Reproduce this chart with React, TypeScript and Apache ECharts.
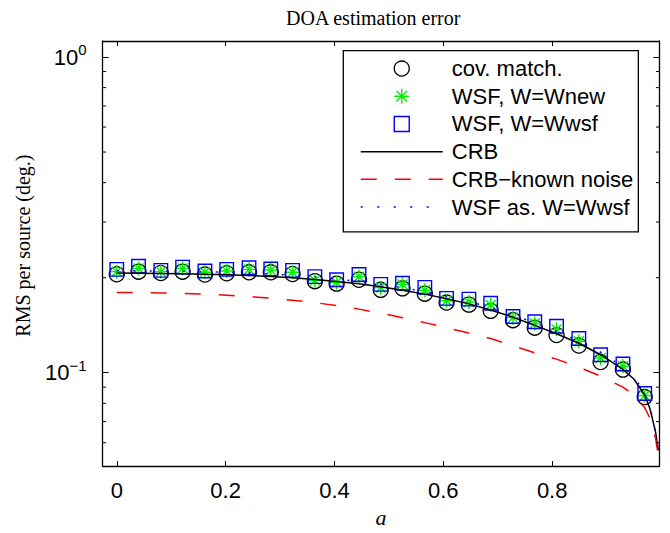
import React, { useEffect, useRef } from 'react';
import * as echarts from 'echarts';

// ---------------- data ----------------
const pointX = [0, 0.040, 0.081, 0.121, 0.162, 0.202, 0.243, 0.283, 0.323, 0.364, 0.404, 0.445, 0.485,
  0.525, 0.566, 0.606, 0.647, 0.687, 0.728, 0.768, 0.808, 0.849, 0.889, 0.930, 0.970];

const covMatch = [0.205, 0.209, 0.207, 0.209, 0.2046, 0.2065, 0.208, 0.208, 0.2055, 0.195, 0.1915, 0.197, 0.183,
  0.185, 0.178, 0.1668, 0.1643, 0.157, 0.1467, 0.1389, 0.1317, 0.1219, 0.1081, 0.1023, 0.0837];

const wsfNew = [0.209, 0.214, 0.209, 0.214, 0.208, 0.210, 0.2125, 0.2115, 0.208, 0.196, 0.193, 0.2015, 0.186,
  0.1905, 0.1824, 0.169, 0.1675, 0.164, 0.1494, 0.1432, 0.1372, 0.1258, 0.1113, 0.1048, 0.0847];

const wsfWsf = [0.2125, 0.2175, 0.211, 0.216, 0.210, 0.2125, 0.215, 0.213, 0.211, 0.2015, 0.197, 0.2046, 0.1905,
  0.192, 0.1863, 0.172, 0.171, 0.166, 0.1507, 0.1450, 0.1403, 0.1283, 0.1140, 0.1066, 0.0859];

const lineX = [0, 0.040, 0.081, 0.121, 0.162, 0.202, 0.243, 0.283, 0.323, 0.364, 0.404, 0.445, 0.485,
  0.525, 0.566, 0.606, 0.647, 0.687, 0.728, 0.768, 0.808, 0.849, 0.889, 0.930, 0.950, 0.970, 0.980, 0.990, 0.995];

const crb = [0.2068, 0.2066, 0.2063, 0.2058, 0.2052, 0.2044, 0.2033, 0.2018, 0.1999, 0.1975, 0.1946, 0.1912, 0.1872,
  0.1826, 0.1774, 0.1716, 0.1652, 0.1580, 0.1498, 0.1412, 0.1328, 0.1240, 0.1140, 0.1025, 0.0955, 0.0850, 0.0766, 0.0648, 0.0567];

const crbKnownNoise = [0.1795, 0.1794, 0.1790, 0.1783, 0.1773, 0.1760, 0.1743, 0.1722, 0.1697, 0.1667, 0.1632, 0.1590, 0.1543,
  0.1494, 0.1441, 0.1389, 0.1335, 0.1283, 0.1218, 0.1155, 0.1104, 0.1040, 0.0975, 0.0900, 0.0850, 0.0775, 0.0715, 0.0620, 0.0545];

const wsfAsymptotic = [0.2105, 0.2103, 0.2100, 0.2095, 0.2089, 0.2081, 0.2070, 0.2054, 0.2035, 0.2011, 0.1981, 0.1946, 0.1906,
  0.1859, 0.1806, 0.1747, 0.1682, 0.1608, 0.1525, 0.1437, 0.1352, 0.1262, 0.1160, 0.1045, 0.0975, 0.0860, 0.0775, 0.0650, 0.0570];

const xTickLabels = ['0', '0.2', '0.4', '0.6', '0.8'];
const yMinorTicks = [0.06, 0.07, 0.08, 0.09, 0.2, 0.3, 0.4, 0.5, 0.6, 0.7, 0.8, 0.9];
const seriesNames = ['cov. match.', 'WSF, W=Wnew', 'WSF, W=Wwsf', 'CRB', 'CRB\u2212known noise', 'WSF as. W=Wwsf'];

const X_MIN = -0.026;
const X_MAX = 0.997;
const Y_MIN = 0.0506;
const Y_MAX = 1.124;

const SANS = 'Liberation Sans, Arial, Helvetica, sans-serif';
const SERIF = 'Liberation Serif, Times New Roman, serif';

const STAR = 'path://M0,5L10,5M5,0L5,10M1.46,1.46L8.54,8.54M8.54,1.46L1.46,8.54';
const SQUARE = 'path://M0,0L10,0L10,10L0,10Z';

export default function App() {
  const ref = useRef<HTMLDivElement>(null);

  useEffect(() => {
    if (!ref.current) return;
    const chart = echarts.init(ref.current, undefined, { renderer: 'svg' });

    const pair = (xs: number[], ys: number[]) => xs.map((x, i) => [x, ys[i]]);
    const transparent = 'rgba(0,0,0,0)';

    const axisLineStyle = { show: true, onZero: false, lineStyle: { color: '#000', width: 1.3 } };

    const option: any = {
      animation: false,
      backgroundColor: '#fff',
      title: {
        text: 'DOA estimation error',
        left: 286,
        top: 8,
        padding: 0,
        textStyle: { fontFamily: SERIF, fontSize: 20, fontWeight: 'normal', color: '#000' },
      },
      grid: { left: 102.6, right: 10.6, top: 41, bottom: 57, containLabel: false },
      xAxis: [
        {
          type: 'value',
          min: X_MIN,
          max: X_MAX,
          position: 'bottom',
          axisLine: axisLineStyle,
          axisTick: { show: true, inside: true, length: 5, lineStyle: { color: '#000', width: 1 } },
          splitLine: { show: false },
          axisLabel: {
            margin: 13,
            color: '#000',
            fontFamily: SANS,
            fontSize: 22,
            formatter: (v: number) => {
              const s = String(parseFloat(v.toFixed(3)));
              return xTickLabels.includes(s) ? s : '';
            },
          },
          name: 'a',
          nameLocation: 'middle',
          nameGap: 33,
          nameTextStyle: { fontFamily: SERIF, fontStyle: 'italic', fontSize: 22, color: '#000' },
        },
        {
          type: 'value',
          min: X_MIN,
          max: X_MAX,
          position: 'top',
          axisLine: axisLineStyle,
          axisTick: { show: true, inside: true, length: 5, lineStyle: { color: '#000', width: 1 } },
          axisLabel: { show: false },
          splitLine: { show: false },
        },
      ],
      yAxis: [
        {
          type: 'log',
          logBase: 10,
          min: Y_MIN,
          max: Y_MAX,
          position: 'left',
          axisLine: axisLineStyle,
          axisTick: { show: true, inside: true, length: 6, lineStyle: { color: '#000', width: 1 } },
          splitLine: { show: false },
          axisLabel: {
            margin: 16,
            formatter: (v: number) => {
              const e = Math.log10(v);
              const r = Math.round(e);
              if (Math.abs(e - r) > 1e-6) return '';
              return `{b|10}{s|${r < 0 ? '\u2212' : ''}${Math.abs(r)}}`;
            },
            rich: {
              b: { fontFamily: SANS, fontSize: 22, color: '#000', lineHeight: 30 },
              s: { fontFamily: SANS, fontSize: 15, color: '#000', verticalAlign: 'top' },
            },
          },
          name: 'RMS per source (deg.)',
          nameLocation: 'middle',
          nameGap: 70,
          nameTextStyle: { fontFamily: SERIF, fontSize: 20, color: '#000', padding: [0, 0, 0, 16] },
        },
        {
          type: 'log',
          logBase: 10,
          min: Y_MIN,
          max: Y_MAX,
          position: 'right',
          axisLine: axisLineStyle,
          axisTick: { show: true, inside: true, length: 6, lineStyle: { color: '#000', width: 1 } },
          axisLabel: { show: false },
          splitLine: { show: false },
        },
      ],
      legend: {
        orient: 'vertical',
        left: 343.3,
        top: 50.7,
        padding: [4, 5, 11, 16.7],
        itemWidth: 82,
        itemHeight: 15,
        itemGap: 0,
        selectedMode: false,
        symbolKeepAspect: true,
        backgroundColor: '#fff',
        borderColor: '#000',
        borderWidth: 1.3,
        borderRadius: 0,
        textStyle: { fontFamily: SANS, fontSize: 22, color: '#000', lineHeight: 27.7, padding: [0, 0, 0, 4] },
        data: [
          { name: seriesNames[0], itemStyle: { color: transparent, borderColor: '#000', borderWidth: 1.3 } },
          { name: seriesNames[1], itemStyle: { color: transparent, borderColor: '#00ee00', borderWidth: 1.4 } },
          { name: seriesNames[2], itemStyle: { color: transparent, borderColor: '#0000ff', borderWidth: 1.4 } },
          { name: seriesNames[3], itemStyle: { color: transparent, borderColor: transparent, borderWidth: 0 }, lineStyle: { width: 1.5 } },
          { name: seriesNames[4], itemStyle: { color: transparent, borderColor: transparent, borderWidth: 0 }, lineStyle: { width: 1.5 } },
          { name: seriesNames[5], itemStyle: { color: transparent, borderColor: transparent, borderWidth: 0 }, lineStyle: { width: 1.5 } },
        ],
      },
      series: [
        {
          name: seriesNames[0],
          type: 'scatter',
          data: pair(pointX, covMatch),
          symbol: 'circle',
          symbolSize: 15,
          itemStyle: { color: transparent, borderColor: '#000', borderWidth: 1.3, opacity: 1 },
          emphasis: { disabled: true },
        },
        {
          name: seriesNames[1],
          type: 'scatter',
          data: pair(pointX, wsfNew),
          symbol: STAR,
          symbolSize: 14,
          symbolKeepAspect: true,
          itemStyle: { color: transparent, borderColor: '#00ee00', borderWidth: 1.4, opacity: 1 },
          emphasis: { disabled: true },
        },
        {
          name: seriesNames[2],
          type: 'scatter',
          data: pair(pointX, wsfWsf),
          symbol: SQUARE,
          symbolSize: 13.5,
          symbolKeepAspect: true,
          itemStyle: { color: transparent, borderColor: '#0000ff', borderWidth: 1.4, opacity: 1 },
          emphasis: { disabled: true },
        },
        {
          name: seriesNames[3],
          type: 'line',
          data: pair(lineX, crb),
          symbol: 'none',
          showSymbol: false,
          lineStyle: { color: '#000', width: 1.5, type: 'solid' },
          itemStyle: { color: '#000' },
          emphasis: { disabled: true },
        },
        {
          name: seriesNames[4],
          type: 'line',
          data: pair(lineX, crbKnownNoise),
          symbol: 'none',
          showSymbol: false,
          lineStyle: { color: '#ff0000', width: 1.5, type: [16, 18] },
          itemStyle: { color: '#ff0000' },
          emphasis: { disabled: true },
        },
        {
          name: seriesNames[5],
          type: 'line',
          data: pair(lineX, wsfAsymptotic),
          symbol: 'none',
          showSymbol: false,
          lineStyle: { color: '#0000ff', width: 1.5, type: [2, 14.5] },
          itemStyle: { color: '#0000ff' },
          emphasis: { disabled: true },
        },
        {
          name: 'minor-ticks',
          type: 'custom',
          silent: true,
          z: 10,
          data: yMinorTicks.map((v) => [X_MIN, v]),
          renderItem: (_params: any, api: any) => {
            const v = api.value(1);
            const pl = api.coord([X_MIN, v]);
            const pr = api.coord([X_MAX, v]);
            return {
              type: 'group',
              children: [
                { type: 'line', shape: { x1: pl[0], y1: pl[1], x2: pl[0] + 3.5, y2: pl[1] }, style: { stroke: '#000', lineWidth: 1 } },
                { type: 'line', shape: { x1: pr[0], y1: pr[1], x2: pr[0] - 3.5, y2: pr[1] }, style: { stroke: '#000', lineWidth: 1 } },
              ],
            };
          },
        },
      ],
    };

    chart.setOption(option);
    return () => chart.dispose();
  }, []);

  return (
    <div
      ref={ref}
      style={{ position: 'fixed', left: 0, top: 0, width: 670, height: 533, background: '#fff' }}
    />
  );
}
